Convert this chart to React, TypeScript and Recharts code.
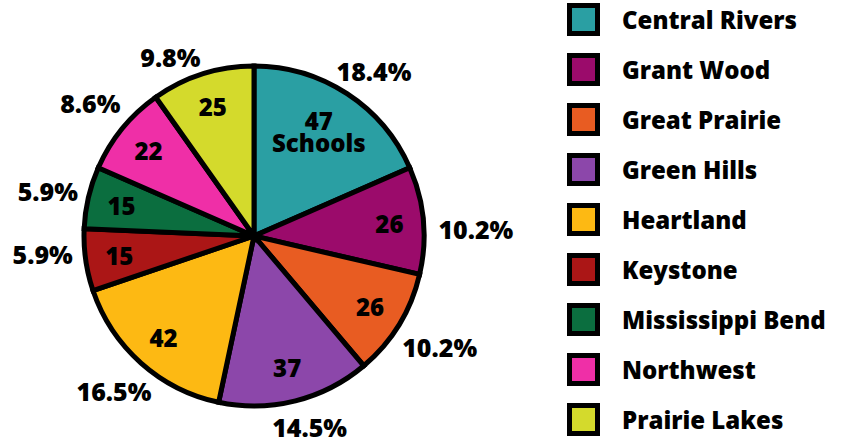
import { PieChart, Pie, Cell, Legend } from 'recharts';

const regions = [
  'Central Rivers',
  'Grant Wood',
  'Great Prairie',
  'Green Hills',
  'Heartland',
  'Keystone',
  'Mississippi Bend',
  'Northwest',
  'Prairie Lakes',
];
const schools = [47, 26, 26, 37, 42, 15, 15, 22, 25];
const colors = [
  '#2a9fa3',
  '#9b0b6b',
  '#e85c22',
  '#8c47aa',
  '#fdb913',
  '#ab1616',
  '#0b6e3f',
  '#ef2fa7',
  '#d4da2c',
];

// hand-placed tweaks for the outside percentage labels, [dx, dy] in px
const labelNudge = [
  [8, 6],
  [3, 13],
  [3, -1],
  [7, -2],
  [-2, 0],
  [6, -13],
  [7, 4],
  [0, 0],
  [-23, 12],
];

const total = schools.reduce((a, b) => a + b, 0);
const data = regions.map((name, i) => ({ name, value: schools[i] }));

const FONT = '"Open Sans", Lato, sans-serif';
const RAD = Math.PI / 180;

interface SliceLabelProps {
  cx?: number;
  cy?: number;
  midAngle?: number;
  outerRadius?: number;
  value?: number;
  index?: number;
}

function SliceLabel({ cx = 0, cy = 0, midAngle = 0, outerRadius = 0, value = 0, index = 0 }: SliceLabelProps) {
  const cos = Math.cos(-midAngle * RAD);
  const sin = Math.sin(-midAngle * RAD);
  const pct = `${((value / total) * 100).toFixed(1)}%`;
  // push wide labels further out on the left/right sides
  const rOut = outerRadius + 28 + 22 * cos * cos;
  const [nx, ny] = labelNudge[index] || [0, 0];
  const rIn = index === 0 ? outerRadius * 0.74 : outerRadius * 0.8;
  const ix = cx + rIn * cos;
  const iy = cy + rIn * sin;
  return (
    <g fontFamily={FONT} fontWeight={800} fill="#000">
      <text
        x={cx + rOut * cos + nx}
        y={cy + rOut * sin + ny}
        fontSize={25}
        textAnchor="middle"
        dominantBaseline="central"
      >
        {pct}
      </text>
      {index === 0 ? (
        <text x={ix - 4} y={iy} fontSize={24} textAnchor="middle" dominantBaseline="central">
          <tspan x={ix - 4} dy={-11}>{value}</tspan>
          <tspan x={ix - 4} dy={22}>Schools</tspan>
        </text>
      ) : (
        <text x={ix} y={iy} fontSize={24} textAnchor="middle" dominantBaseline="central">
          {value}
        </text>
      )}
    </g>
  );
}

function RegionLegend() {
  return (
    <div style={{ fontFamily: FONT, fontWeight: 800, fontSize: 24 }}>
      {regions.map((name, i) => (
        <div key={name} style={{ display: 'flex', alignItems: 'center', height: 50 }}>
          <div
            style={{
              width: 23,
              height: 23,
              border: '5px solid #000',
              background: colors[i],
              marginRight: 22,
            }}
          />
          <span style={{ color: '#000' }}>{name}</span>
        </div>
      ))}
    </div>
  );
}

export default function App() {
  return (
    <div style={{ position: 'absolute', left: 0, top: 0, background: '#fff' }}>
      <PieChart width={848} height={439} margin={{ top: 0, right: 0, bottom: 0, left: 0 }}>
        <Pie
          data={data}
          dataKey="value"
          nameKey="name"
          cx={254}
          cy={236}
          outerRadius={170}
          startAngle={90}
          endAngle={-270}
          stroke="#000"
          strokeWidth={5}
          labelLine={false}
          label={<SliceLabel />}
          isAnimationActive={false}
        >
          {data.map((d, i) => (
            <Cell key={d.name} fill={colors[i]} />
          ))}
        </Pie>
        <Legend
          content={<RegionLegend />}
          wrapperStyle={{ position: 'absolute', left: 567, top: -6, width: 281 }}
        />
      </PieChart>
    </div>
  );
}
